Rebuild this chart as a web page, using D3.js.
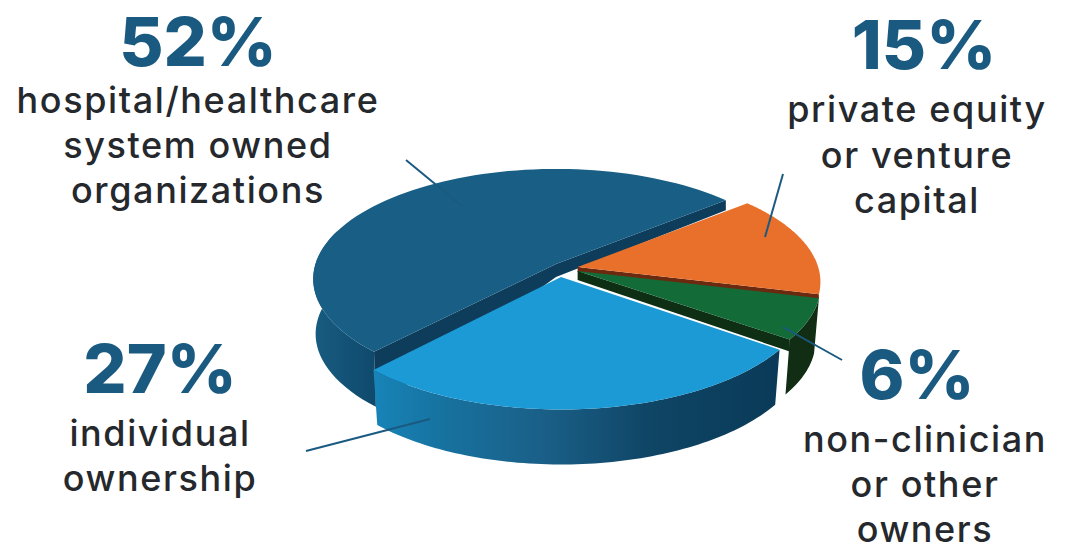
<!DOCTYPE html>
<html>
<head>
<meta charset="utf-8">
<script src="https://cdn.jsdelivr.net/npm/d3@7"></script>
<style>
  html, body { margin: 0; background: #fff; }
  text { font-family: Inter, "Noto Sans", sans-serif; }
</style>
</head>
<body>
<svg id="chart" width="1069" height="544" style="display:block"></svg>
<script>
// ownership shares, clockwise from the top-right split
const categories = ['private equity', 'non-clinician', 'individual', 'hospital']
const shares = [15, 6, 27, 52]
const percentLabels = ['15%', '6%', '27%', '52%']
const captionLines = [
  ['private equity', 'or venture', 'capital'],
  ['non-clinician', 'or other', 'owners'],
  ['individual', 'ownership'],
  ['hospital/healthcare', 'system owned', 'organizations'],
]
const topColors = ['#e8702b', '#136b38', '#1b9ad6', '#195f85']
const cutColors = ['#6b2a10', '#0f2f14', '#0e3d5c', '#0e3d5c']
const wallStops = [
  [['0', '#7a3413'], ['1', '#7a3413']],
  [['0', '#112e14'], ['1', '#112e14']],
  [['0', '#1784b8'], ['0.17', '#17729f'], ['0.42', '#1a5f88'], ['0.68', '#0f4565'], ['1', '#0a3a58']],
  [['0', '#185c81'], ['1', '#0f4a6c']],
]

const ink = '#1a5a80'
const bodyInk = '#25282c'
const svg = d3.select('#chart')
const defs = svg.append('defs')

// projection of the tilted disc: p is the perspective strength
const R = 243, K = 108, p = 0.136, depth = 55

// every slice is pulled out a little, so each has its own apex
const layout = [
  { apex: [577.6, 267], sx: 0.99, sy: 1, cut: [5, 5], low: 0.98, backLimit: -0.15 },
  { apex: [577.6, 271], sx: 0.99, sy: 1, cut: [9, 12], low: 0.98, backLimit: -0.15 },
  { apex: [561, 277], sx: 1.02, sy: 1.06, cut: null, low: 0.98, backLimit: -0.15 },
  { apex: [556, 264], sx: 0.99, sy: 1, cut: null, low: 0.99, backLimit: -0.35 },
]

const pie = d3.pie().sort(null).startAngle(0.875).endAngle(0.875 + Math.PI * 2)
const slices = pie(shares).map((d, i) => ({
  ...d,
  i,
  name: categories[i],
  a0: d.startAngle - Math.PI / 2,
  a1: d.endAngle - Math.PI / 2,
}))

function project(s, a, lower = false) {
  const l = layout[s.i]
  const w = 1 - p * Math.sin(a)
  const dx = R * Math.cos(a) / w * l.sx
  const dy = K * Math.sin(a) / w * l.sy
  const f = lower ? l.low : 1
  return [l.apex[0] + dx * f, l.apex[1] + dy + (lower ? depth : 0)]
}

const arcAngles = (s) => d3.range(0, 81).map((k) => s.a0 + (s.a1 - s.a0) * k / 80)
const line = d3.line()

function topPath(s) {
  return line([layout[s.i].apex, ...arcAngles(s).map((a) => project(s, a))]) + 'Z'
}

// outer rim wall, only the part that faces the viewer
function wallPath(s) {
  const front = arcAngles(s).filter((a) => Math.sin(a) > layout[s.i].backLimit)
  return line([...front.map((a) => project(s, a)), ...front.reverse().map((a) => project(s, a, true))]) + 'Z'
}

// thin dark band along the leading cut edge of a slice
function cutPath(s, edgeAngle, h) {
  const apex = layout[s.i].apex
  const rim = project(s, edgeAngle)
  return line([apex, rim, [rim[0], rim[1] + h[1]], [apex[0], apex[1] + h[0]]]) + 'Z'
}

function hospitalCut(s) {
  const apex = layout[s.i].apex
  const right = project(s, s.a1)
  const left = project(s, s.a0)
  const leftLow = project(s, s.a0, true)
  return line([right, apex, left, leftLow, [apex[0], apex[1] + 13], [right[0], right[1] + 10]]) + 'Z'
}

function rimGradient(s) {
  const id = 'rim' + s.i
  const xs = arcAngles(s).filter((a) => Math.sin(a) > layout[s.i].backLimit).map((a) => project(s, a)[0])
  const g = defs.append('linearGradient').attr('id', id).attr('gradientUnits', 'userSpaceOnUse')
    .attr('x1', d3.min(xs)).attr('x2', d3.max(xs)).attr('y1', 0).attr('y2', 0)
  wallStops[s.i].forEach(([o, c]) => g.append('stop').attr('offset', o).attr('stop-color', c))
  return `url(#${id})`
}

const [orange, green, blue, hospital] = slices

// hospital slice sits at the back
svg.append('path').attr('d', wallPath(hospital)).attr('fill', rimGradient(hospital))
svg.append('path').attr('d', hospitalCut(hospital)).attr('fill', cutColors[3])
svg.append('path').attr('d', topPath(hospital)).attr('fill', topColors[3])

svg.append('path').attr('d', cutPath(orange, orange.a1, layout[0].cut)).attr('fill', cutColors[0])
svg.append('path').attr('d', topPath(orange)).attr('fill', topColors[0])

svg.append('path').attr('d', wallPath(green)).attr('fill', rimGradient(green))
svg.append('path').attr('d', cutPath(green, green.a1, layout[1].cut)).attr('fill', cutColors[1])
svg.append('path').attr('d', topPath(green)).attr('fill', topColors[1])

svg.append('path').attr('d', wallPath(blue)).attr('fill', rimGradient(blue))
svg.append('path').attr('d', topPath(blue)).attr('fill', topColors[2])

const labelPos = [
  { px: 924, py: 69, x: 917, ly: [122, 168, 213] },
  { px: 917, py: 399, x: 925, ly: [452, 497, 542] },
  { px: 160, py: 393, x: 160, ly: [446, 491] },
  { px: 198, py: 66, x: 198, ly: [113, 158, 203] },
]

labelPos.forEach((l, i) => {
  svg.append('text').attr('x', l.px).attr('y', l.py)
    .attr('text-anchor', 'middle').attr('font-size', 68).attr('font-weight', 800)
    .attr('fill', ink).text(percentLabels[i])
  captionLines[i].forEach((t, j) => {
    svg.append('text').attr('x', l.x).attr('y', l.ly[j])
      .attr('text-anchor', 'middle').attr('font-size', 36).attr('font-weight', 500)
      .attr('letter-spacing', 1.6)
      .attr('fill', bodyInk).text(t)
  })
})

const leaders = [
  [[783, 174], [765, 237]],
  [[842, 360], [783, 327]],
  [[306, 451], [430, 419]],
  [[406, 160], [463, 207]],
]
leaders.forEach((l) => {
  svg.append('path').attr('d', line(l)).attr('stroke', ink).attr('stroke-width', 2).attr('fill', 'none')
})
</script>
</body>
</html>
